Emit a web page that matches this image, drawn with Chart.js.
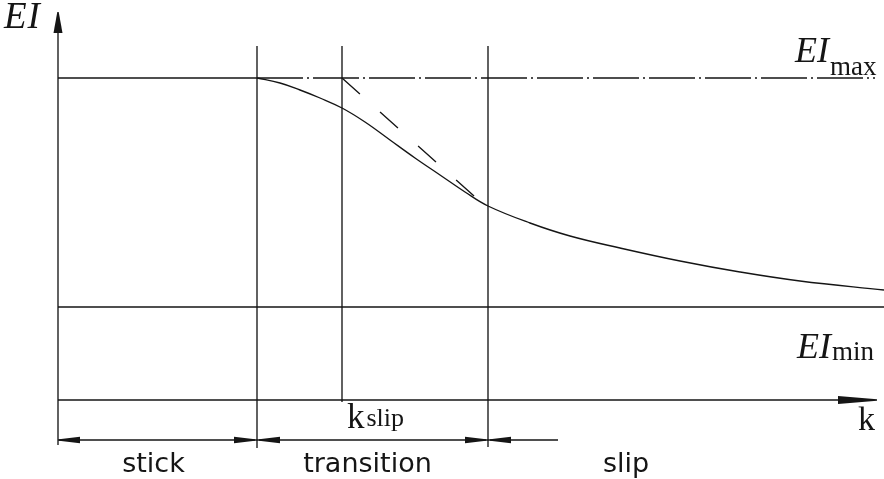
<!DOCTYPE html>
<html>
<head>
<meta charset="utf-8">
<script src="https://cdn.jsdelivr.net/npm/chart.js@4.4.1/dist/chart.umd.min.js"></script>
<style>
  html, body { margin: 0; padding: 0; background: #fff; }
  #wrap { width: 884px; height: 479px; }
</style>
</head>
<body>
<div id="wrap"><canvas id="c" width="884" height="479"></canvas></div>
<script>
// Bending stiffness EI against curvature k: stick, transition and slip regimes
const kCurve  = [1.99, 2.22, 2.42, 2.62, 2.84, 3.07, 3.32, 3.57, 3.82, 4.07, 4.30, 4.72, 5.12, 5.62, 6.22, 6.82, 7.42, 8.26];
const eiCurve = [3.22, 3.17, 3.10, 3.02, 2.92, 2.78, 2.60, 2.42, 2.25, 2.08, 1.94, 1.77, 1.64, 1.52, 1.39, 1.28, 1.19, 1.10];
const kBounds = [0, 1.99, 4.30];        // start of stick, transition, slip
const kSlip = 2.84;
const eiMax = 3.22;
const eiMin = 0.93;
const tangentK  = [2.84, 4.24];
const tangentEI = [3.22, 1.97];
const regimeLabels = ['stick', 'transition', 'slip'];

const INK = '#151515';
const LW = 1.35;

function seg(x0, y0, x1, y1, extra) {
  return Object.assign({
    data: [{ x: x0, y: y0 }, { x: x1, y: y1 }],
    showLine: true,
    borderColor: INK,
    borderWidth: LW,
    pointRadius: 0,
    fill: false,
    clip: false
  }, extra || {});
}

const kEnd = 8.26, eiTop = 3.54, dimEI = -0.40;

const datasets = [
  seg(0, -0.45, 0, 3.75),                                   // EI axis
  seg(0, 0, 8.0, 0),                                        // k axis
  seg(kBounds[0], eiMax, kBounds[1], eiMax),                // EImax level (stick)
  seg(kBounds[1], eiMax, 8.17, eiMax, { borderDash: [46, 4, 2, 4] }),
  seg(0, eiMin, kEnd, eiMin),                               // EImin level
  seg(kBounds[1], -0.48, kBounds[1], eiTop),
  seg(kSlip, -0.02, kSlip, eiTop),
  seg(kBounds[2], -0.47, kBounds[2], eiTop),
  seg(0, dimEI, 5.0, dimEI),                                // dimension line
  seg(tangentK[0], tangentEI[0], tangentK[1], tangentEI[1], { borderDash: [24, 27] }),
  {
    data: kCurve.map((k, i) => ({ x: k, y: eiCurve[i] })),
    showLine: true,
    borderColor: INK,
    borderWidth: LW,
    pointRadius: 0,
    tension: 0.4,
    fill: false,
    clip: false
  }
];

function arrowHead(ctx, tx, ty, bx, by, hw) {
  const dx = tx - bx, dy = ty - by, len = Math.hypot(dx, dy);
  const nx = -dy / len, ny = dx / len;
  ctx.beginPath();
  ctx.moveTo(tx + nx * 0.7, ty + ny * 0.7);
  ctx.lineTo(bx + nx * hw, by + ny * hw);
  ctx.lineTo(bx - nx * hw, by - ny * hw);
  ctx.lineTo(tx - nx * 0.7, ty - ny * 0.7);
  ctx.closePath();
  ctx.fill();
}

function subText(ctx, main, sub, x, y, mainFont, subFont, subDx, subDy) {
  ctx.font = mainFont;
  ctx.fillText(main, x, y);
  const w = ctx.measureText(main).width;
  ctx.font = subFont;
  ctx.fillText(sub, x + w + subDx, y + subDy);
}

const diagramPlugin = {
  id: 'diagram',
  afterDatasetsDraw(chart) {
    const { ctx, scales: { x, y } } = chart;
    const X = v => x.getPixelForValue(v);
    const Y = v => y.getPixelForValue(v);
    ctx.save();
    ctx.fillStyle = INK;

    // axis arrows
    arrowHead(ctx, X(0), Y(3.88), X(0), Y(3.67), 4.5);
    arrowHead(ctx, X(8.19), Y(0), X(7.80), Y(0), 4);

    // dimension arrows along the regime line
    const d = Y(dimEI);
    const L = 21, H = 3.3;
    arrowHead(ctx, X(kBounds[0]) + 1, d, X(kBounds[0]) + 1 + L, d, H);
    arrowHead(ctx, X(kBounds[1]) - 2, d, X(kBounds[1]) - 2 - L, d, H);
    arrowHead(ctx, X(kBounds[1]) + 2, d, X(kBounds[1]) + 2 + L, d, H);
    arrowHead(ctx, X(kBounds[2]) - 2, d, X(kBounds[2]) - 2 - L, d, H);
    arrowHead(ctx, X(kBounds[2]) + 2, d, X(kBounds[2]) + 2 + L, d, H);

    // symbols
    ctx.textAlign = 'left';
    ctx.textBaseline = 'alphabetic';
    ctx.font = 'italic 37px "Liberation Serif"';
    ctx.letterSpacing = '1px';
    ctx.fillText('EI', X(0) - 54, Y(3.88) + 16);
    ctx.letterSpacing = '0px';

    subText(ctx, 'EI', 'max', 795, Y(eiMax) - 16,
      'italic 36px "Liberation Serif"', '27px "Liberation Serif"', 1, 13);
    subText(ctx, 'EI', 'min', 797, Y(eiMin) + 51,
      'italic 36px "Liberation Serif"', '27px "Liberation Serif"', 1, 2);
    subText(ctx, 'k', 'slip', X(kSlip) + 5, Y(0) + 28,
      '35px "Liberation Serif"', '26px "Liberation Serif"', 2, -2);

    ctx.font = '34px "Liberation Serif"';
    ctx.fillText('k', 858, Y(0) + 30);

    // regime names
    ctx.textAlign = 'center';
    ctx.font = '27px "DejaVu Sans"';
    const base = d + 32;
    ctx.fillText(regimeLabels[0], X((kBounds[0] + kBounds[1]) / 2) - 4, base);
    ctx.fillText(regimeLabels[1], X((kBounds[1] + kBounds[2]) / 2) - 5, base);
    ctx.fillText(regimeLabels[2], X(5.68), base);
    ctx.restore();
  }
};

new Chart(document.getElementById('c'), {
  type: 'scatter',
  data: { datasets },
  options: {
    responsive: false,
    animation: false,
    devicePixelRatio: 1,
    layout: { padding: 0, autoPadding: false },
    plugins: { legend: { display: false }, tooltip: { enabled: false } },
    scales: {
      x: { type: 'linear', min: -0.58, max: 8.26, display: false },
      y: { type: 'linear', min: -0.79, max: 4.0, display: false }
    }
  },
  plugins: [diagramPlugin]
});
</script>
</body>
</html>
